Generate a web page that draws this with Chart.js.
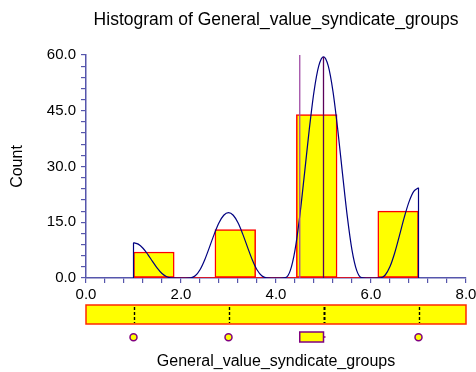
<!DOCTYPE html>
<html><head><meta charset="utf-8">
<script src="https://cdn.jsdelivr.net/npm/chart.js@4.4.1/dist/chart.umd.min.js"></script>
<style>html,body{margin:0;padding:0;background:#fff;}#wrap{width:476px;height:372px;}</style>
</head><body><div id="wrap"><canvas id="c" width="476" height="372"></canvas></div>
<script>
// ---- data ----
const binEdges = [1.0, 1.857, 2.714, 3.571, 4.429, 5.286, 6.143, 7.0];
const binCounts = [7, 0, 13, 0, 44, 0, 18];
const curveX = [1.0,1.1,1.2,1.3,1.4,1.5,1.6,1.7,1.8,1.9,2.0,2.1,2.2,2.3,2.4,2.5,2.6,2.7,2.8,2.9,
  3.0,3.1,3.2,3.3,3.4,3.5,3.6,3.7,3.8,3.9,4.0,4.1,4.2,4.3,4.4,4.5,4.6,4.7,4.8,4.9,
  5.0,5.1,5.2,5.3,5.4,5.5,5.6,5.7,5.8,5.9,6.0,6.1,6.2,6.3,6.4,6.5,6.6,6.7,6.8,6.9,7.0];
const curveY = [9.5,9.11,8.01,6.37,4.48,2.66,1.2,0.32,0.01,0,0,0,0.03,0.59,2.22,4.92,8.31,11.81,14.84,16.88,
  17.6,16.88,14.84,11.81,8.31,4.92,2.22,0.59,0.03,0,0,0,0.09,1.98,7.51,16.64,28.08,39.92,50.16,57.07,
  59.5,57.07,50.16,39.92,28.08,16.64,7.51,1.98,0.09,0,0,0,0.04,0.81,3.07,6.8,11.47,16.3,20.48,23.31,24.3];
const refLineX = [4.5, 5.0];
const refLineTop = [60, 59.5];
const stripValues = [1, 3, 5, 7];
const boxRange = [4.5, 5.0];
const outlierValues = [1, 3, 7];
const xTickLabels = ['0.0', '2.0', '4.0', '6.0', '8.0'];
const yTickLabels = ['0.0', '15.0', '30.0', '45.0', '60.0'];

const FONT = "'Liberation Sans', Arial, Helvetica, sans-serif";
const AXIS = '#5656ac';

const binCenters = binCounts.map((_, i) => (binEdges[i] + binEdges[i + 1]) / 2);
const curveData = curveX.map((x, i) => ({x, y: curveY[i]}));
const first = curveData[0], last = curveData[curveData.length - 1];

const lowerPanel = {
  id: 'lowerPanel',
  afterDraw(chart) {
    const {ctx, chartArea, scales} = chart;
    const x = scales.x;
    const base = chartArea.bottom;
    const x0 = x.getPixelForValue(x.min), x1 = x.getPixelForValue(x.max);
    ctx.save();
    // strip of values
    const top = base + 27, h = 19;
    ctx.fillStyle = '#ffff00';
    ctx.fillRect(x0, top, x1 - x0, h);
    ctx.strokeStyle = '#ff2a00';
    ctx.lineWidth = 1.5;
    ctx.strokeRect(x0, top, x1 - x0, h);
    ctx.strokeStyle = '#000';
    ctx.setLineDash([3, 2]);
    stripValues.forEach(v => {
      const px = Math.round(x.getPixelForValue(v)) + 0.5;
      ctx.lineWidth = v === 5 ? 2 : 1.4;
      ctx.beginPath(); ctx.moveTo(px, top + 2); ctx.lineTo(px, top + h - 1); ctx.stroke();
    });
    ctx.setLineDash([]);
    // box row
    const by = base + 54, bh = 10;
    const bx0 = x.getPixelForValue(boxRange[0]), bx1 = x.getPixelForValue(boxRange[1]);
    ctx.fillStyle = '#ffff00';
    ctx.fillRect(bx0, by, bx1 - bx0, bh);
    ctx.strokeStyle = '#800080';
    ctx.lineWidth = 1.5;
    ctx.strokeRect(bx0, by, bx1 - bx0, bh);
    ctx.beginPath(); ctx.moveTo(bx1, by + bh / 2); ctx.lineTo(bx1 + 2, by + bh / 2); ctx.stroke();
    outlierValues.forEach(v => {
      const px = x.getPixelForValue(v);
      ctx.beginPath(); ctx.arc(px, by + 5.3, 3.5, 0, Math.PI * 2);
      ctx.fillStyle = '#ffff00'; ctx.fill();
      ctx.strokeStyle = '#800080'; ctx.lineWidth = 1.5; ctx.stroke();
    });
    ctx.restore();
  }
};

new Chart(document.getElementById('c'), {
  type: 'bar',
  data: {
    datasets: [
      {
        type: 'bar', xAxisID: 'x', order: 5,
        data: binCenters.map((c, i) => ({x: c, y: binCounts[i]})),
        backgroundColor: '#ffff00', borderColor: '#ff0000', borderWidth: 1.5,
        borderSkipped: false, barThickness: 'flex', barPercentage: 1, categoryPercentage: 1
      },
      {
        type: 'line', xAxisID: 'x', order: 4,
        data: [{x: binEdges[0], y: 0}, {x: binEdges[binEdges.length - 1], y: 0}],
        borderColor: '#ff0000', borderWidth: 1.5, pointRadius: 0
      },
      {
        type: 'line', xAxisID: 'x', order: 3, data: curveData,
        borderColor: '#000080', borderWidth: 1.2, pointRadius: 0,
        cubicInterpolationMode: 'monotone'
      },
      {
        type: 'line', xAxisID: 'x', order: 3,
        data: [{x: first.x, y: 0}, {x: first.x, y: first.y}],
        borderColor: '#000080', borderWidth: 1.2, pointRadius: 0
      },
      {
        type: 'line', xAxisID: 'x', order: 3,
        data: [{x: last.x, y: last.y}, {x: last.x, y: 0}],
        borderColor: '#000080', borderWidth: 1.2, pointRadius: 0
      },
      {
        type: 'line', xAxisID: 'x', order: 2,
        data: [{x: refLineX[0], y: 0}, {x: refLineX[0], y: refLineTop[0]}],
        borderColor: '#a04ca6', borderWidth: 1.3, pointRadius: 0
      },
      {
        type: 'line', xAxisID: 'x', order: 1,
        data: [{x: refLineX[1], y: 0}, {x: refLineX[1], y: refLineTop[1]}],
        borderColor: '#5a005a', borderWidth: 1.3, pointRadius: 0
      }
    ]
  },
  options: {
    responsive: false, animation: false, devicePixelRatio: 1,
    layout: {padding: {left: 0, right: 10, top: 0, bottom: 0}},
    plugins: {
      legend: {display: false},
      tooltip: {enabled: false},
      title: {
        display: true, fullSize: false,
        text: 'Histogram of General_value_syndicate_groups',
        color: '#000', font: {family: FONT, size: 17.5, weight: 'normal'},
        padding: {top: 9.5, bottom: 24.5}
      }
    },
    scales: {
      x: {
        type: 'linear', position: 'bottom', min: 0, max: 8, offset: false,
        grid: {display: true, drawOnChartArea: false, drawTicks: true, tickLength: 5, tickColor: AXIS, lineWidth: 1.2, offset: false},
        border: {display: true, color: AXIS, width: 1.5},
        ticks: {
          stepSize: 0.4, autoSkip: false, maxRotation: 0, minRotation: 0, padding: 3,
          color: '#000', font: {family: FONT, size: 15},
          callback: v => {
            const i = Math.round(v / 2);
            return Math.abs(v - i * 2) < 1e-6 ? xTickLabels[i] : '';
          }
        },
        title: {display: true, text: 'General_value_syndicate_groups', color: '#000',
          font: {family: FONT, size: 16}, padding: {top: 0, bottom: 1}},
        afterFit: s => { s.height = 94; s.paddingRight = 9; s.paddingLeft = 9; }
      },
      y: {
        type: 'linear', position: 'left', min: 0, max: 60,
        grid: {display: true, drawOnChartArea: false, drawTicks: true, tickLength: 5, tickColor: AXIS, lineWidth: 1.2},
        border: {display: true, color: AXIS, width: 1.5},
        ticks: {
          stepSize: 3, autoSkip: false, padding: 5,
          color: '#000', font: {family: FONT, size: 15},
          callback: v => (Math.abs(v % 15) < 1e-6 ? yTickLabels[Math.round(v / 15)] : '')
        },
        title: {display: true, text: 'Count', color: '#000',
          font: {family: FONT, size: 16}, padding: {top: 8, bottom: 0}},
        afterFit: s => { s.width = 86; }
      }
    }
  },
  plugins: [lowerPanel]
});
</script>
</body></html>
